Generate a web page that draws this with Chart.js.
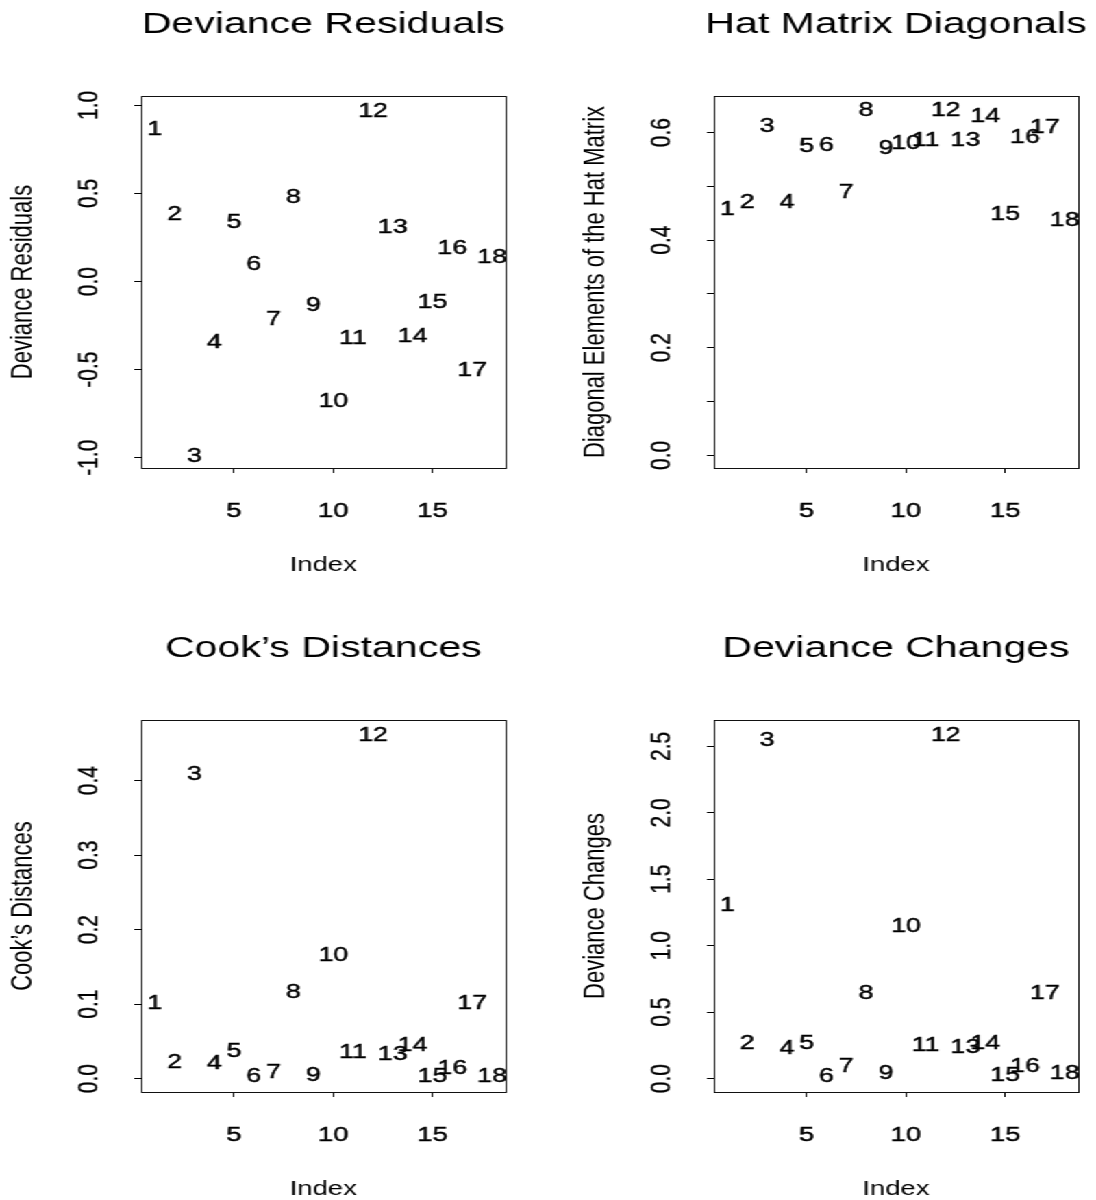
<!DOCTYPE html>
<html>
<head>
<meta charset="utf-8">
<script src="https://cdn.jsdelivr.net/npm/chart.js@4.4.0/dist/chart.umd.min.js"></script>
<style>
  html, body { margin: 0; padding: 0; background: #fff; overflow: hidden; width: 1096px; height: 1200px; }
  #stage { position: absolute; left: 0; top: 0; width: 800px; height: 1200px; overflow: hidden;
           transform: scaleX(1.37); transform-origin: 0 0; background: #fff; }
  #stage canvas { position: absolute; }
</style>
</head>
<body>
<div id="stage">
  <canvas id="c1" width="420" height="624" style="left:0px;top:0px"></canvas>
  <canvas id="c2" width="420" height="624" style="left:418px;top:0px"></canvas>
  <canvas id="c3" width="420" height="624" style="left:0px;top:624px"></canvas>
  <canvas id="c4" width="420" height="624" style="left:418px;top:624px"></canvas>
</div>
<script>
// ---------- data ----------
const obsIndex = [1, 2, 3, 4, 5, 6, 7, 8, 9, 10, 11, 12, 13, 14, 15, 16, 17, 18];
const pointLabels = ['1','2','3','4','5','6','7','8','9','10','11','12','13','14','15','16','17','18'];

const devianceResiduals = [0.863, 0.378, -0.991, -0.349, 0.334, 0.095, -0.217, 0.478, -0.138,
                           -0.680, -0.321, 0.963, 0.308, -0.312, -0.119, 0.185, -0.506, 0.136];
const hatDiagonals = [0.4575, 0.469, 0.611, 0.470, 0.574, 0.575, 0.489, 0.640, 0.571,
                      0.580, 0.585, 0.641, 0.585, 0.630, 0.448, 0.591, 0.610, 0.437];
const cooksDistances = [0.1005, 0.021, 0.408, 0.020, 0.036, 0.002, 0.0075, 0.115, 0.0035,
                        0.165, 0.035, 0.460, 0.032, 0.0446, 0.002, 0.0134, 0.1005, 0.003];
const devianceChanges = [1.301, 0.263, 2.540, 0.225, 0.267, 0.012, 0.092, 0.638, 0.0375,
                         1.143, 0.250, 2.583, 0.237, 0.263, 0.025, 0.092, 0.643, 0.0375];

const xTickValues = [5, 10, 15];
const xTickLabels = ['5', '10', '15'];
const xLimits = [0.32, 18.68];

const devResTickValues = [-1, -0.5, 0, 0.5, 1];
const devResTickLabels = ['-1.0', '-0.5', '0.0', '0.5', '1.0'];
const devResLimits = [-1.058, 1.053];

const hatTickValues = [0, 0.1, 0.2, 0.3, 0.4, 0.5, 0.6];
const hatTickLabels = ['0.0', '', '0.2', '', '0.4', '', '0.6'];
const hatLimits = [-0.0235, 0.668];

const cookTickValues = [0, 0.1, 0.2, 0.3, 0.4];
const cookTickLabels = ['0.0', '0.1', '0.2', '0.3', '0.4'];
const cookLimits = [-0.018, 0.4814];

const devChTickValues = [0, 0.5, 1, 1.5, 2, 2.5];
const devChTickLabels = ['0.0', '0.5', '1.0', '1.5', '2.0', '2.5'];
const devChLimits = [-0.1, 2.698];

// ---------- styling ----------
const FONT = '"Liberation Sans", Arial, Helvetica, sans-serif';
Chart.defaults.font.family = FONT;
Chart.defaults.color = '#000';

const Y_TICK_SIZE = 21;
const measureCtx = document.createElement('canvas').getContext('2d');
function widestLabel(labels) {
  measureCtx.font = Y_TICK_SIZE + 'px ' + FONT;
  return Math.max(...labels.map(l => measureCtx.measureText(l).width));
}

const boxPlugin = {
  id: 'plotBox',
  afterDatasetsDraw(chart) {
    const { ctx, chartArea: a } = chart;
    ctx.save();
    ctx.strokeStyle = '#111';
    ctx.lineWidth = 1;
    ctx.strokeRect(Math.round(a.left) + 0.5, Math.round(a.top) + 0.5,
                   Math.round(a.right - a.left), Math.round(a.bottom - a.top));
    ctx.restore();
  }
};

const labelPlugin = {
  id: 'indexLabels',
  afterDatasetsDraw(chart) {
    const meta = chart.getDatasetMeta(0);
    const ctx = chart.ctx;
    ctx.save();
    ctx.font = '19.5px ' + FONT;
    ctx.fillStyle = '#000';
    ctx.strokeStyle = '#000';
    ctx.lineWidth = 0.45;
    ctx.textAlign = 'center';
    ctx.textBaseline = 'middle';
    meta.data.forEach((pt, i) => {
      ctx.fillText(pointLabels[i], pt.x, pt.y);
      ctx.strokeText(pointLabels[i], pt.x, pt.y);
    });
    ctx.restore();
  }
};

const titleSpanPlugin = {
  id: 'titleSpan',
  afterLayout(chart) {
    const tb = chart.titleBlock;
    if (!tb) return;
    const c = (chart.chartArea.left + chart.chartArea.right) / 2;
    tb.left = c - 210; tb.right = c + 210; tb.width = 420;
  }
};

function makePanel(id, titleText, yTitle, values, yLim, yTicks, yLabels) {
  const widest = widestLabel(yLabels);
  return new Chart(document.getElementById(id), {
    type: 'scatter',
    data: {
      datasets: [{
        data: obsIndex.map((x, i) => ({ x: x, y: values[i] })),
        pointRadius: 0, pointHoverRadius: 0, showLine: false
      }]
    },
    options: {
      responsive: false,
      animation: false,
      devicePixelRatio: 1,
      events: [],
      layout: { padding: { left: 0, top: 0, right: 51, bottom: 0 } },
      plugins: {
        legend: { display: false },
        tooltip: { enabled: false },
        title: {
          display: true, text: titleText, fullSize: false, color: '#000',
          font: { family: FONT, size: 30, weight: 'normal', lineHeight: 1.2 },
          padding: { top: 6.6, bottom: 53.4 }
        }
      },
      scales: {
        x: {
          type: 'linear', position: 'bottom', min: xLimits[0], max: xLimits[1], bounds: 'data',
          afterBuildTicks: s => { s.ticks = xTickValues.map(v => ({ value: v })); },
          afterFit: s => { s.height = 156; s.paddingLeft = 0; s.paddingRight = 0; },
          ticks: {
            autoSkip: false, minRotation: 0, maxRotation: 0, padding: 26.2, color: '#000',
            textStrokeColor: '#000', textStrokeWidth: 0.45,
            font: { family: FONT, size: 20 },
            callback: (v, i) => xTickLabels[i]
          },
          grid: { display: true, drawOnChartArea: false, drawTicks: true, tickLength: 5, color: '#000', lineWidth: 1 },
          border: { display: false },
          title: { display: true, text: 'Index', color: '#000', font: { family: FONT, size: 20 },
                   padding: { top: 0, bottom: 46.5 } }
        },
        y: {
          type: 'linear', position: 'left', min: yLim[0], max: yLim[1], bounds: 'data',
          afterBuildTicks: s => { s.ticks = yTicks.map(v => ({ value: v })); },
          afterFit: s => { s.width = 103; s.paddingTop = 0; s.paddingBottom = 0; },
          ticks: {
            autoSkip: false, minRotation: 90, maxRotation: 90, crossAlign: 'center',
            padding: 32.7 - widest / 2, color: '#000',
            textStrokeColor: '#000', textStrokeWidth: 0.3,
            font: { family: FONT, size: Y_TICK_SIZE },
            callback: (v, i) => yLabels[i]
          },
          grid: { display: true, drawOnChartArea: false, drawTicks: true, tickLength: 5, color: '#000', lineWidth: 1 },
          border: { display: false },
          title: { display: true, text: yTitle, color: '#000', font: { family: FONT, size: 22 },
                   padding: { top: 4, bottom: 0 } }
        }
      }
    },
    plugins: [boxPlugin, labelPlugin, titleSpanPlugin]
  });
}

makePanel('c1', 'Deviance Residuals', 'Deviance Residuals', devianceResiduals, devResLimits, devResTickValues, devResTickLabels);
makePanel('c2', 'Hat Matrix Diagonals', 'Diagonal Elements of the Hat Matrix', hatDiagonals, hatLimits, hatTickValues, hatTickLabels);
makePanel('c3', 'Cook\u2019s Distances', 'Cook\u2019s Distances', cooksDistances, cookLimits, cookTickValues, cookTickLabels);
makePanel('c4', 'Deviance Changes', 'Deviance Changes', devianceChanges, devChLimits, devChTickValues, devChTickLabels);
</script>
</body>
</html>
